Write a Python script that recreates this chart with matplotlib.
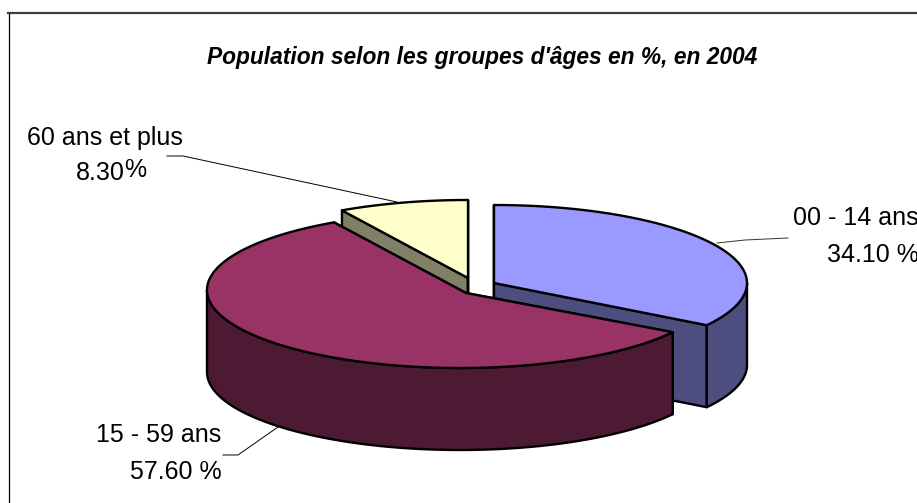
import numpy as np
import matplotlib
matplotlib.use('Agg')
import matplotlib.pyplot as plt

plt.rcParams['font.family'] = ['Liberation Sans', 'DejaVu Sans']

# Data
labels = ['00 - 14 ans', '15 - 59 ans', '60 ans et plus']
shares = [34.1, 57.6, 8.3]
value_texts = ['34.10 %', '57.60 %', '8.30']
top_colors = ['#9999FF', '#993366', '#FFFFCC']
side_colors = ['#4D4D80', '#4D1A33', '#808066']
title = "Population selon les groupes d'âges en %, en 2004"

# 3D pie shape, in pixels
RX = 253
RY = 78
DEPTH = 82
centers = [(494, 283), (460, 290), (468, 278)]  # each slice is pulled out on its own
apexes = [(494, 283), (466, 293), (468, 278)]

fig = plt.figure(figsize=(9.17, 5.03), dpi=100)
ax = fig.add_axes([0, 0, 1, 1])
ax.set_xlim(0, 917)
ax.set_ylim(503, 0)
ax.axis('off')


def arc(center, a0, a1):
    # angles are clockwise from 12 o'clock
    t = np.radians(np.linspace(a0, a1, 120))
    return center[0] + RX * np.sin(t), center[1] - RY * np.cos(t)


def shape(xs, ys, color, z):
    ax.fill(xs, ys, facecolor=color, edgecolor='black', linewidth=1.7, joinstyle='round', zorder=z)


def draw_slice(center, apex, a0, a1, top, side, z):
    px, py = apex
    # the cut faces first
    for a in (a0, a1):
        ex, ey = arc(center, a, a)
        ex, ey = ex[0], ey[0]
        shape([px, ex, ex, px], [py, ey, ey + DEPTH, py + DEPTH], side, z)
    # outer wall, only the front half of the rim shows
    lo, hi = max(a0, 90), min(a1, 270)
    if lo < hi:
        wx, wy = arc(center, lo, hi)
        shape(np.r_[wx, wx[::-1]], np.r_[wy, wy[::-1] + DEPTH], side, z + 0.1)
    xs, ys = arc(center, a0, a1)
    shape(np.r_[px, xs], np.r_[py, ys], top, z + 0.2)


edges = np.cumsum([0] + shares) / sum(shares) * 360
draw_order = [2, 0, 1]
for n, i in enumerate(draw_order):
    draw_slice(centers[i], apexes[i], edges[i], edges[i + 1], top_colors[i], side_colors[i], n + 2)

# Chart frame, runs off the picture on the right and the bottom
ax.plot([8.5, 8.5], [13, 503], color='black', linewidth=0.9, zorder=1)
ax.plot([8, 917], [13, 13], color='#404040', linewidth=1.6, zorder=1)

# Leader lines
ax.plot([788, 745, 717], [238, 240, 243], color='#333333', linewidth=0.7, zorder=1)
ax.plot([223, 238, 278], [455, 455, 427], color='black', linewidth=0.7, zorder=1)
ax.plot([167, 183, 397], [156, 156, 202], color='black', linewidth=0.7, zorder=1)

ax.text(482, 64, title, fontsize=16.35, fontweight='bold', fontstyle='italic',
        ha='center', va='baseline')

# the two right hand texts run off the picture in the reference too
FS = 18
ax.text(793, 225, labels[0], fontsize=FS, ha='left', va='baseline', clip_on=True)
ax.text(827, 262, value_texts[0], fontsize=FS, ha='left', va='baseline', clip_on=True)
ax.text(221, 442, labels[1], fontsize=FS, ha='right', va='baseline')
ax.text(222, 479, value_texts[1], fontsize=FS, ha='right', va='baseline')
ax.text(183, 145, labels[2], fontsize=FS, ha='right', va='baseline')
ax.text(125, 180, value_texts[2], fontsize=FS, ha='right', va='baseline')
ax.text(124, 177, '%', fontsize=FS, ha='left', va='baseline')

plt.savefig('out.png', dpi=100)
